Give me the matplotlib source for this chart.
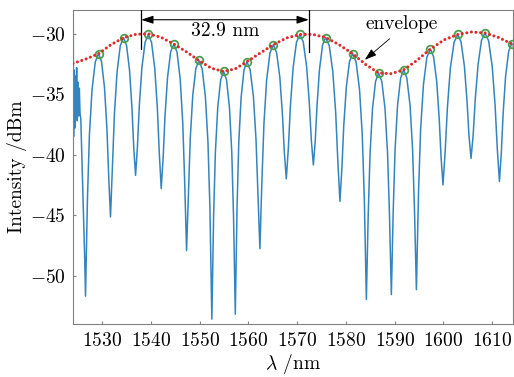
import matplotlib
matplotlib.use("Agg")
import matplotlib.pyplot as plt

plt.rcParams['font.family'] = 'serif'
plt.rcParams['font.serif'] = ['cmr10']
plt.rcParams['mathtext.fontset'] = 'cm'
plt.rcParams['axes.formatter.use_mathtext'] = True
plt.rcParams['axes.unicode_minus'] = True

# ---- data ----
spectrum_nm = [
    1524.00, 1524.05, 1524.12, 1524.25, 1524.38, 1524.50, 1524.62, 1524.75, 1524.88, 1525.00,
    1525.15, 1525.30, 1525.45, 1525.60, 1525.85, 1526.15, 1526.40, 1526.57,
    1526.97, 1527.37, 1527.91, 1528.57, 1529.24, 1529.86, 1530.47, 1530.96, 1531.33, 1531.70,
    1532.10, 1532.50, 1533.04, 1533.70, 1534.37, 1534.99, 1535.61, 1536.10, 1536.47, 1536.84,
    1537.23, 1537.62, 1538.15, 1538.80, 1539.45, 1540.12, 1540.78, 1541.31, 1541.71, 1542.11,
    1542.50, 1542.89, 1543.41, 1544.05, 1544.70, 1545.35, 1546.01, 1546.53, 1546.92, 1547.31,
    1547.69, 1548.07, 1548.58, 1549.21, 1549.84, 1550.51, 1551.17, 1551.70, 1552.10, 1552.50,
    1552.86, 1553.22, 1553.71, 1554.31, 1554.91, 1555.51, 1556.11, 1556.59, 1556.95, 1557.31,
    1557.67, 1558.02, 1558.50, 1559.10, 1559.69, 1560.36, 1561.03, 1561.56, 1561.96, 1562.36,
    1562.77, 1563.19, 1563.74, 1564.42, 1565.11, 1565.78, 1566.45, 1566.98, 1567.38, 1567.78,
    1568.20, 1568.62, 1569.18, 1569.87, 1570.57, 1571.26, 1571.95, 1572.50, 1572.92, 1573.33,
    1573.71, 1574.09, 1574.59, 1575.22, 1575.85, 1576.59, 1577.32, 1577.91, 1578.35, 1578.79,
    1579.18, 1579.57, 1580.10, 1580.75, 1581.40, 1582.10, 1582.81, 1583.37, 1583.79, 1584.21,
    1584.59, 1584.97, 1585.47, 1586.10, 1586.73, 1587.38, 1588.04, 1588.56, 1588.95, 1589.34,
    1589.72, 1590.10, 1590.61, 1591.24, 1591.87, 1592.52, 1593.18, 1593.70, 1594.09, 1594.48,
    1594.91, 1595.34, 1595.92, 1596.63, 1597.35, 1598.00, 1598.65, 1599.16, 1599.55, 1599.94,
    1600.39, 1600.85, 1601.45, 1602.21, 1602.96, 1603.64, 1604.33, 1604.87, 1605.28, 1605.69,
    1606.12, 1606.55, 1607.13, 1607.84, 1608.56, 1609.30, 1610.04, 1610.63, 1611.08, 1611.52,
    1611.90, 1612.28, 1612.78, 1613.41, 1614.04, 1614.60,
]
spectrum_dbm = [
    -48.3, -28.6, -38.5, -33.0, -37.8, -33.5, -36.5, -32.8, -37.2, -34.0,
    -36.8, -34.5, -36.6, -37.0, -40.5, -44.5, -48.5, -51.7,
    -43.59, -38.35, -34.62, -32.33, -31.65, -32.31, -34.47, -37.81, -41.79, -45.15,
    -41.00, -36.67, -33.20, -31.00, -30.33, -30.96, -33.03, -36.11, -39.40, -41.71,
    -39.31, -35.91, -32.78, -30.70, -30.06, -30.71, -32.85, -36.10, -39.85, -42.80,
    -40.25, -36.76, -33.59, -31.49, -30.85, -31.53, -33.77, -37.39, -42.21, -47.93,
    -43.19, -38.64, -35.10, -32.88, -32.21, -32.89, -35.19, -38.95, -44.33, -53.60,
    -45.12, -39.83, -36.09, -33.80, -33.12, -33.80, -36.09, -39.83, -45.12, -53.20,
    -44.38, -39.04, -35.29, -32.99, -32.31, -32.98, -35.19, -38.72, -43.21, -47.77,
    -42.21, -37.44, -33.83, -31.59, -30.91, -31.54, -33.59, -36.63, -39.83, -42.00,
    -39.46, -35.97, -32.80, -30.70, -30.06, -30.68, -32.72, -35.71, -38.81, -40.85,
    -38.91, -35.89, -32.95, -30.93, -30.31, -30.97, -33.13, -36.48, -40.47, -43.86,
    -41.18, -37.61, -34.40, -32.29, -31.65, -32.33, -34.62, -38.36, -43.64, -51.98,
    -44.98, -39.89, -36.20, -33.93, -33.25, -33.93, -36.19, -39.87, -44.90, -51.57,
    -44.68, -39.61, -35.93, -33.66, -32.98, -33.66, -35.92, -39.59, -44.60, -51.16,
    -43.18, -37.95, -34.23, -31.94, -31.26, -31.89, -33.95, -37.01, -40.26, -42.50,
    -39.69, -36.06, -32.83, -30.71, -30.06, -30.67, -32.68, -35.56, -38.48, -40.30,
    -38.43, -35.46, -32.56, -30.55, -29.94, -30.58, -32.70, -35.91, -39.50, -42.20,
    -39.90, -36.61, -33.53, -31.46, -30.83, -31.00,
]

peak_nm = [1529.24, 1534.37, 1539.45, 1544.70, 1549.84, 1554.91, 1559.69, 1565.11, 1570.57,
           1575.85, 1581.40, 1586.73, 1591.87, 1597.35, 1602.96, 1608.56, 1614.04]
peak_dbm = [-31.65, -30.33, -30.06, -30.85, -32.21, -33.12, -32.31, -30.91, -30.06,
            -30.31, -31.65, -33.25, -32.98, -31.26, -30.06, -29.94, -30.83]

envelope_nm = [1524.0, 1526.6, 1529.24, 1531.8, 1534.37, 1536.9, 1539.45, 1542.1, 1544.70,
               1547.3, 1549.84, 1552.4, 1554.91, 1557.3, 1559.69, 1562.4, 1565.11, 1567.8,
               1570.57, 1573.2, 1575.85, 1578.6, 1581.40, 1584.1, 1586.73, 1589.3, 1591.87,
               1594.6, 1597.35, 1600.2, 1602.96, 1605.8, 1608.56, 1611.3, 1614.04, 1614.6]
envelope_dbm = [-32.45, -32.1, -31.65, -30.9, -30.33, -30.05, -30.0, -30.3, -30.85,
                -31.5, -32.21, -32.85, -33.12, -32.9, -32.31, -31.6, -30.91, -30.35,
                -30.06, -30.05, -30.31, -30.9, -31.65, -32.55, -33.25, -33.3, -32.98,
                -32.2, -31.26, -30.5, -30.06, -29.85, -29.94, -30.3, -30.83, -31.1]

x_ticks = [1530, 1540, 1550, 1560, 1570, 1580, 1590, 1600, 1610]
y_ticks = [-50, -45, -40, -35, -30]

span_left_nm, span_right_nm = 1538.0, 1572.4
span_label = '32.9 nm'

# ---- figure ----
fig = plt.figure(figsize=(5.14, 3.77), dpi=100)
ax = fig.add_axes([0.142, 0.1406, 0.856, 0.834])

ax.plot(spectrum_nm, spectrum_dbm, color='#3484be', lw=1.1, zorder=2)
ax.plot(peak_nm, peak_dbm, ls='none', marker='o', ms=5.5, mfc='none', mec='#4e9e4e', mew=1.3,
        zorder=3)
ax.plot(envelope_nm, envelope_dbm, color='#e02a2a', lw=2.2, ls=(0, (0.01, 1.5)),
        dash_capstyle='round', zorder=4)

ax.set_xlim(1524, 1614.3)
ax.set_ylim(-54, -28)
ax.set_xticks(x_ticks)
ax.set_yticks(y_ticks)

for s in ax.spines.values():
    s.set_color('#808080')
    s.set_linewidth(0.8)
ax.tick_params(direction='in', length=2.5, width=0.8, color='#808080', labelsize=14,
               top=False, right=False)
ax.tick_params(axis='x', pad=6)
ax.tick_params(axis='y', pad=5)

ax.set_xlabel(r'$\lambda$ /nm', fontsize=14, labelpad=1)
ax.set_ylabel('Intensity /dBm', fontsize=14, labelpad=2)

# span annotation
ax.plot([span_left_nm, span_left_nm], [-28, -31.25], color='k', lw=0.9, zorder=5)
ax.plot([span_right_nm, span_right_nm], [-28, -31.5], color='k', lw=0.9, zorder=5)
ax.annotate('', xy=(span_left_nm, -28.84), xytext=(span_right_nm, -28.84),
            arrowprops=dict(arrowstyle='<|-|>,head_length=0.6,head_width=0.2', color='k',
                            lw=0.8, mutation_scale=12, shrinkA=0, shrinkB=0), zorder=5)
ax.text(1555.2, -29.8, span_label, fontsize=14, ha='center', va='center')

# envelope annotation
ax.annotate('', xy=(1583.9, -32.15), xytext=(1589.0, -30.41),
            arrowprops=dict(arrowstyle='-|>,head_length=0.6,head_width=0.2', color='k',
                            lw=0.6, mutation_scale=12, shrinkA=0, shrinkB=0))
ax.text(1591.4, -29.17, 'envelope', fontsize=14, ha='center', va='center')

fig.savefig('out.png', dpi=100)
